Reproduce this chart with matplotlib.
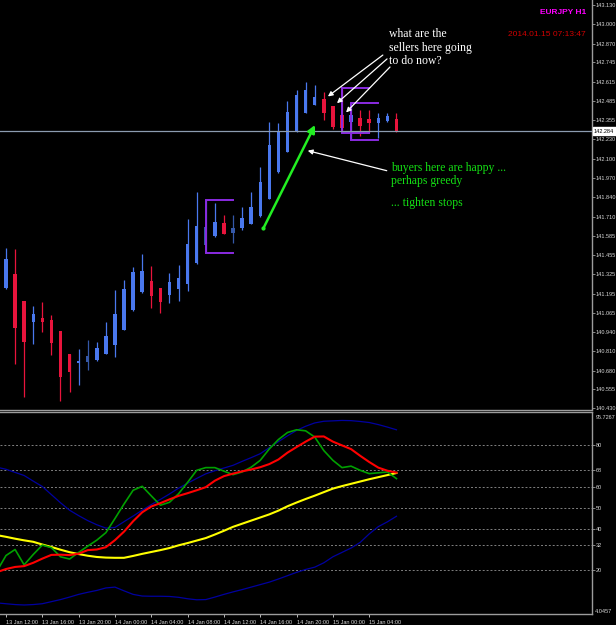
import numpy as np
import matplotlib
matplotlib.use('Agg')
import matplotlib.pyplot as plt
from matplotlib.transforms import blended_transform_factory

plt.rcParams['font.family'] = ['Liberation Sans', 'DejaVu Sans']

# EURJPY H1, bars 13 Jan 12:00 .. 15 Jan 07:00
opens = [141.234, 141.328, 141.147, 141.008, 141.033, 141.020, 140.946, 140.792, 140.730, 140.741,
         140.752, 140.794, 140.852, 140.953, 141.087, 141.205, 141.281, 141.232, 141.187, 141.227,
         141.261, 141.399, 141.522, 141.584, 141.667, 141.602, 141.633, 141.662, 141.716, 141.830,
         142.008, 142.146, 142.276, 142.403, 142.459, 142.499, 142.454, 142.392, 142.347, 142.370,
         142.365, 142.340, 142.354, 142.365]
highs = [141.502, 141.493, 141.147, 141.113, 141.140, 141.053, 140.946, 140.792, 140.824, 140.884,
         140.872, 141.006, 141.220, 141.287, 141.372, 141.461, 141.383, 141.232, 141.332, 141.388,
         141.694, 141.874, 141.823, 141.801, 141.722, 141.722, 141.778, 141.874, 142.042, 142.343,
         142.336, 142.487, 142.559, 142.611, 142.593, 142.546, 142.454, 142.570, 142.470, 142.425,
         142.425, 142.403, 142.403, 142.403]
lows = [141.227, 140.725, 140.506, 140.861, 140.941, 140.785, 140.479, 140.540, 140.585, 140.685,
        140.747, 140.794, 140.774, 140.953, 141.082, 141.202, 141.100, 141.068, 141.135, 141.147,
        141.214, 141.392, 141.466, 141.577, 141.598, 141.533, 141.622, 141.662, 141.711, 141.830,
        142.006, 142.146, 142.276, 142.403, 142.459, 142.358, 142.295, 142.269, 142.224, 142.251,
        142.269, 142.236, 142.347, 142.276]
closes = [141.426, 140.964, 140.874, 141.058, 141.006, 140.868, 140.640, 140.674, 140.747, 140.779,
          140.834, 140.915, 141.058, 141.225, 141.339, 141.348, 141.182, 141.142, 141.276, 141.303,
          141.528, 141.651, 141.640, 141.678, 141.598, 141.635, 141.700, 141.778, 141.945, 142.191,
          142.287, 142.414, 142.526, 142.559, 142.514, 142.405, 142.313, 142.303, 142.392, 142.318,
          142.341, 142.370, 142.385, 142.284]
dim_bars = [9, 22, 25]
inside_bars = [22, 37, 38]     # mother bars of the purple brackets

time_labels = ['13 Jan 12:00', '13 Jan 16:00', '13 Jan 20:00', '14 Jan 00:00', '14 Jan 04:00',
               '14 Jan 08:00', '14 Jan 12:00', '14 Jan 16:00', '14 Jan 20:00', '15 Jan 00:00',
               '15 Jan 04:00']
price_ticks = [143.130, 143.000, 142.870, 142.745, 142.615, 142.485, 142.355, 142.230, 142.100,
               141.970, 141.840, 141.710, 141.585, 141.455, 141.325, 141.195, 141.065, 140.940,
               140.810, 140.680, 140.555, 140.430]
last_price = 142.284

# indicator window, bars 13 Jan 11:00 .. 15 Jan 07:00
ind_green = [19.5, 27, 29.9, 22.5, 27.5, 32, 30.8, 26.4, 25.3, 28.5, 31.5, 34.4, 38, 44.8, 51.8,
             58.4, 60.3, 55.7, 51.2, 52.6, 56.7, 62.2, 68, 69.3, 69.3, 67.6, 65.9, 67.2, 69.5, 72.8,
             78.3, 82.8, 86.2, 87.5, 87, 84, 77.5, 72.8, 69.3, 70, 68, 66.4, 66.8, 67.2, 64]
ind_red = [19, 20.5, 21.5, 21.9, 23.5, 25.5, 27.3, 27.4, 27.2, 27.9, 29.6, 29.9, 31, 34.4, 38.5,
           43.5, 47.8, 50.6, 52.2, 54, 55.7, 57, 58.4, 59.9, 63, 65.2, 66.4, 67.5, 68.4, 69.5,
           71, 73.2, 76.5, 79.2, 81.8, 84.2, 84.3, 81.8, 80, 78.2, 75, 72, 69.3, 67.8, 66.9]
ind_yellow = [36.8, 36, 35.1, 34.3, 33.6, 32.3, 31.1, 29.8, 28.6, 27.7, 26.9, 26.3, 26, 25.9, 25.9,
              26.8, 27.8, 28.7, 29.6, 30.6, 31.9, 33, 34.2, 35.4, 37.1, 38.9, 40.8, 42.3, 43.8, 45.3,
              46.8, 48.6, 50.7, 52.5, 54.2, 55.8, 57.5, 59.2, 60.4, 61.5, 62.6, 63.7, 64.7, 65.7, 66.7]
band_up = [69.5, 68.5, 67, 65.5, 62.8, 60.2, 56.3, 52.4, 48.8, 46.2, 43.8, 41.8, 40.2, 40.5, 43.3,
           46, 48.8, 51.5, 54, 56.6, 59.4, 61.8, 64.1, 66.3, 67.8, 69.1, 70.4, 72.3, 74.1, 76,
           78.9, 81.8, 84.6, 87.2, 89.2, 90.8, 91.6, 91.8, 92, 91.9, 91.5, 91, 90, 88.8, 87.5]
band_dn = [4.2, 3.8, 3.4, 3.2, 3.4, 3.8, 4.8, 5.8, 7, 8.3, 9.3, 10.2, 11.4, 11.8, 10, 8.3, 7.5,
           7.4, 7.4, 7.3, 6.9, 6.2, 5.7, 5.8, 7, 8.3, 9.5, 10.6, 11.8, 13, 14.2, 15.7, 17.3, 18.9,
           20.3, 21.4, 23.5, 26.4, 28.5, 30.6, 33.3, 37.4, 40.9, 43.2, 45.9]
ind_levels = [80, 68, 60, 50, 40, 32, 20]
ind_max = 95.7267
ind_min = 4.0457

bg = 'black'
axis_col = '#9c9c9c'
txt_col = '#d8d8d8'

fig = plt.figure(figsize=(6.16, 6.25), dpi=100, facecolor=bg)
ax1 = fig.add_axes([0, 1 - 409.5 / 625, 591.7 / 616, 409.5 / 625], facecolor=bg)
ax2 = fig.add_axes([0, 1 - 614 / 625, 591.7 / 616, 202.5 / 625], facecolor=bg)

x = np.arange(len(opens))
xi = np.arange(-1, len(ind_red) - 1)
xlim = (-0.66, 64.5)

# ---- candles
o = np.array(opens); c = np.array(closes)
up = c >= o
cols = []
for i in x:
    if up[i]:
        cols.append('#3558a8' if i in dim_bars else '#4a78ee')
    else:
        cols.append('#a0102a' if i in dim_bars else '#e8143c')
ax1.vlines(x, lows, highs, colors=cols, lw=0.9)
body = np.maximum(np.abs(c - o), 0.004)
ax1.bar(x, body, bottom=np.minimum(o, c), width=0.38, color=cols, linewidth=0)

# purple inside-bar brackets
for b in inside_bars:
    ax1.plot([b + 3, b, b, b + 3], [highs[b], highs[b], lows[b], lows[b]],
             color='#8a2be2', lw=1.4, solid_joinstyle='miter')

ax1.axhline(last_price, color='#8c9cb0', lw=0.9)

ax1.set_xlim(*xlim)
ax1.set_ylim(140.4205, 143.1615)
ax1.yaxis.tick_right()
ax1.set_yticks(price_ticks)
ax1.set_yticklabels([f'{v:.3f}' for v in price_ticks])
ax1.tick_params(axis='y', colors=axis_col, labelcolor=txt_col, labelsize=4, length=2, pad=1, width=0.6)
ax1.set_xticks([])
for s in ['left', 'top']:
    ax1.spines[s].set_visible(False)
for s in ['right', 'bottom']:
    ax1.spines[s].set_color(axis_col)
    ax1.spines[s].set_linewidth(1)

tr1 = blended_transform_factory(ax1.transAxes, ax1.transData)
ax1.text(1.004, last_price, f'{last_price:.3f}', transform=tr1, fontsize=4, color='black',
         va='center', ha='left', bbox=dict(boxstyle='square,pad=0.25', fc='white', ec='white'))

ax1.text(586, 625 - 12.5, 'EURJPY H1', transform=None, fontsize=6, color='#ff00ff', weight='bold',
         ha='right', va='center')
ax1.text(586, 625 - 35, '2014.01.15 07:13:47', transform=None, fontsize=6, color='#d00000',
         ha='right', va='center')

# comments on the chart
serif = ['Liberation Serif', 'DejaVu Serif']
ax1.text(42.2, 142.975, 'what are the\nsellers here going\nto do now?', color='white',
         fontsize=8.5, family=serif, va='top', ha='left', linespacing=1.2)
ax1.text(42.4, 142.080, 'buyers here are happy ...\nperhaps greedy', color='#14e014',
         fontsize=8.5, family=serif, va='top', ha='left', linespacing=1.2)
ax1.text(42.4, 141.845, '... tighten stops', color='#14e014',
         fontsize=8.5, family=serif, va='top', ha='left')

wh = dict(arrowstyle='-|>', color='white', lw=0.9, mutation_scale=7, shrinkA=0, shrinkB=0)
for b, sx, sy in [(35, 41.5, 142.793), (36, 41.96, 142.767), (37, 42.29, 142.713)]:
    ax1.annotate('', xy=(b + 0.45, opens[b] + 0.017), xytext=(sx, sy), arrowprops=wh)
ax1.annotate('', xy=(33.23, 142.153), xytext=(41.93, 142.019), arrowprops=wh)
ax1.annotate('', xy=(34.03, 142.325), xytext=(28.34, 141.633),
             arrowprops=dict(arrowstyle='-|>', color='#22ee22', lw=1.8, mutation_scale=11,
                             shrinkA=0, shrinkB=0))
ax1.plot([28.34], [141.633], 'o', color='#22ee22', ms=2)

# ---- indicator window
for lv in ind_levels:
    ax2.axhline(lv, color='#808080', lw=0.7, ls=(0, (2, 2)))
ax2.plot(xi, band_up, color='#0000a0', lw=0.9)
ax2.plot(xi, band_dn, color='#0000a0', lw=0.9)
ax2.plot(xi, ind_yellow, color='#ffff00', lw=1.5)
ax2.plot(xi, ind_green, color='#00a000', lw=1.2)
ax2.plot(xi, ind_red, color='#ff0000', lw=1.5)

ax2.set_xlim(*xlim)
ax2.set_ylim(-1.14, 96.3)
ax2.yaxis.tick_right()
ax2.set_yticks(ind_levels)
ax2.set_yticklabels([str(v) for v in ind_levels])
ax2.tick_params(axis='y', colors=axis_col, labelcolor=txt_col, labelsize=4, length=2, pad=1, width=0.6)
ax2.set_xticks(np.arange(0, len(opens), 4))
ax2.set_xticklabels(time_labels, ha='left')
ax2.tick_params(axis='x', colors=txt_col, labelcolor=txt_col, labelsize=4, length=2.5, pad=1.5, width=0.6)
ax2.spines['left'].set_visible(False)
for s in ['right', 'bottom', 'top']:
    ax2.spines[s].set_color(axis_col)
    ax2.spines[s].set_linewidth(1)

tr2 = blended_transform_factory(ax2.transAxes, ax2.transData)
ax2.annotate(f'{ind_max:.4f}', xy=(1.006, ind_max), xycoords=tr2, xytext=(0, -1.5),
             textcoords='offset points', fontsize=4, color=txt_col, va='top', ha='left')
ax2.annotate(f'{ind_min:.4f}', xy=(1.006, ind_min), xycoords=tr2, xytext=(0, -4),
             textcoords='offset points', fontsize=4, color=txt_col, va='top', ha='left')

fig.savefig('out.png', dpi=100, facecolor=bg)
